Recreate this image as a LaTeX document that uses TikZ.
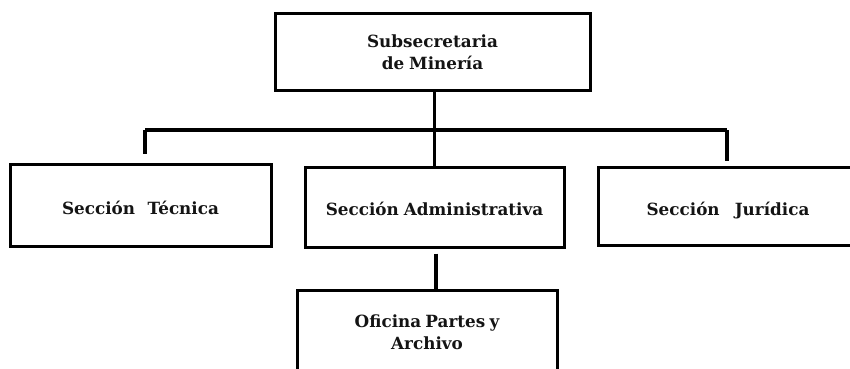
\documentclass[tikz,border=0pt]{standalone}
\usepackage{fontspec}
\setmainfont{DejaVu Serif}
\begin{document}
\begin{tikzpicture}[x=1pt,y=-1pt,
  orgbox/.style={draw=black, line width=3pt, fill=none, align=center, inner sep=0pt,
    font=\bfseries\fontsize{16.8}{22}\selectfont, text=black!92},
  link/.style={draw=black, line width=3.2pt}]
\useasboundingbox (0,0) rectangle (850,368);
\node[orgbox, minimum width=315pt, minimum height=77pt] (top) at (432.5,51.5)
  {\raisebox{-5pt}[0pt][0pt]{\parbox{300pt}{\centering Subsecretaria\\de\hspace{0.3em}Minería}}};
\node[orgbox, minimum width=261pt, minimum height=82pt] (tec) at (140.5,205)
  {\raisebox{-9pt}[0pt][0pt]{Sección\hspace{0.75em}Técnica}};
\node[orgbox, minimum width=259pt, minimum height=80pt] (adm) at (434.5,207)
  {\raisebox{-8pt}[0pt][0pt]{Sección\hspace{0.3em}Administrativa}};
\node[orgbox, minimum width=260pt, minimum height=78pt] (jur) at (728,206)
  {\raisebox{-9.5pt}[0pt][0pt]{Sección\hspace{0.9em}Jurídica}};
\node[orgbox, minimum width=260pt, minimum height=84pt] (ofi) at (427,332)
  {Oficina\hspace{0.25em}Partes\hspace{0.25em}y\\Archivo};
\coordinate (hl) at (145,130);
\coordinate (hr) at (727,130);
\coordinate (ofs) at (436,0);
\draw[link] (top.south -| adm.north) -- (adm.north);
\draw[link] (hl) -- (hr);
\draw[link, shorten >=9pt] (hl) -- (hl |- tec.north);
\draw[link, shorten >=5pt] (hr) -- (hr |- jur.north);
\draw[link, shorten <=5pt] (ofs |- adm.south) -- (ofs |- ofi.north);
\end{tikzpicture}
\end{document}
